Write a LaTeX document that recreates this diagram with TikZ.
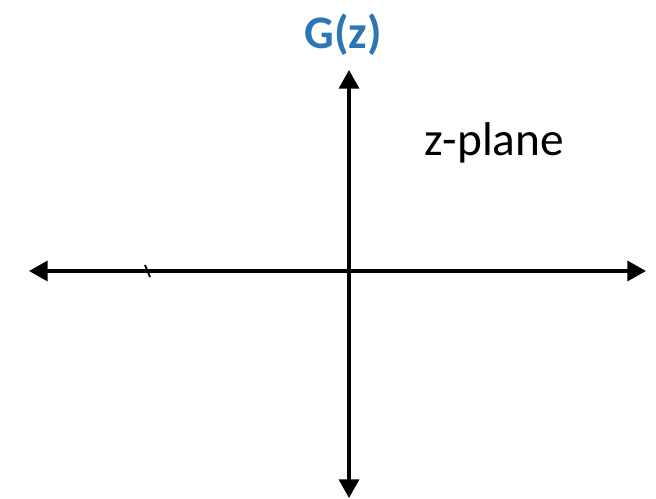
\documentclass[tikz,border=0pt]{standalone}
\usepackage{fontspec}
\setmainfont{Carlito}
\usetikzlibrary{arrows.meta}
\definecolor{titleBlue}{HTML}{2E75B6}
\definecolor{axisColor}{HTML}{000000}

\begin{document}
\begin{tikzpicture}[
  x=0.75pt, y=-0.75pt,
  axis/.style={
    {Triangle[length=14pt,width=15pt]}-{Triangle[length=14pt,width=15pt]},
    draw=axisColor,
    line width=2.4pt
  },
  label/.style={inner sep=0pt, font=\fontsize{35.5}{42}\selectfont}
]
\useasboundingbox (0,0) rectangle (656,499);

\coordinate (re-left) at (29,271);
\coordinate (re-right) at (646,271);
\coordinate (im-top) at (349,70);
\coordinate (im-bottom) at (349,498);

\draw[axis] (re-left) -- (re-right);
\draw[axis] (im-top) -- (im-bottom);

% little mark on the real axis
\coordinate (mark-a) at (145,265);
\coordinate (mark-b) at (150,277);
\draw[line width=1.4pt] (mark-a) -- (mark-b);

\node[label, text=titleBlue, font=\fontsize{35}{42}\selectfont\bfseries] (title) at (343,35) {G(z)};
\node[label] (plane) at (494,143) {z-plane};

\end{tikzpicture}
\end{document}
